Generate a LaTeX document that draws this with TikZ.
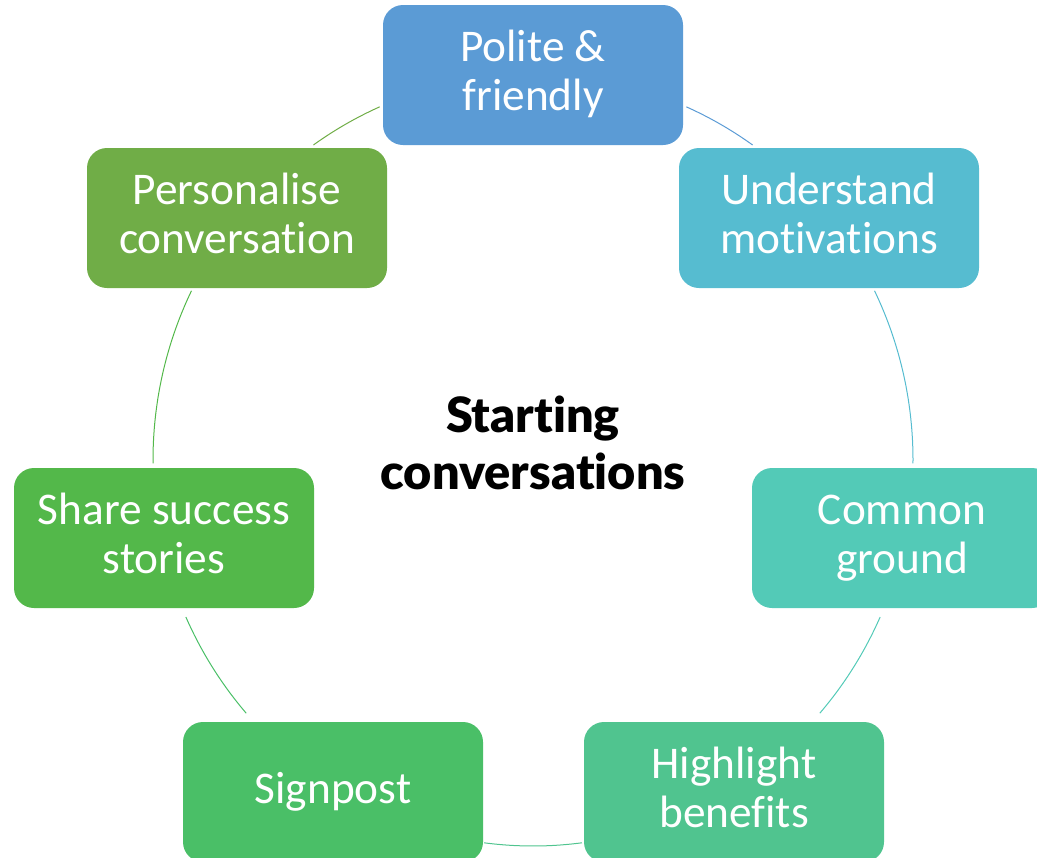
\documentclass[tikz,border=0pt]{standalone}
\usepackage{fontspec}
\setmainfont{Carlito}[RawFeature=-liga]
\newfontfamily\latofont{Lato Black}[RawFeature=-liga]
\definecolor{cA}{RGB}{91,155,213}
\definecolor{cB}{RGB}{86,188,208}
\definecolor{cC}{RGB}{83,202,183}
\definecolor{cD}{RGB}{80,196,143}
\definecolor{cE}{RGB}{74,191,103}
\definecolor{cF}{RGB}{83,184,74}
\definecolor{cG}{RGB}{112,173,71}
\newcommand\bxs{\rule[-7.5pt]{0pt}{31.5pt}}
\newcommand\tts{\rule[-7.5pt]{0pt}{34pt}}
\begin{document}
\begin{tikzpicture}[x=0.75pt,y=-0.75pt,
  box/.style={rounded corners=15pt, minimum width=225pt, minimum height=105pt,
    inner sep=0pt, align=center, text=white, font=\fontsize{34}{36.75}\selectfont},
  ring/.style={line width=0.75pt}]
\useasboundingbox (0,0) rectangle (1037,857);
\clip (0,0) rectangle (1037,857);
% ring segments
\draw[ring, cA] plot[domain=23.8:35.3, samples=30, smooth] ({533+380*sin(\x)},{460-386*cos(\x)});
\draw[ring, cB] plot[domain=64:90.5, samples=40, smooth] ({533+380*sin(\x)},{460-386*cos(\x)});
\draw[ring, cC] plot[domain=114:131, samples=30, smooth] ({533+380*sin(\x)},{460-386*cos(\x)});
\draw[ring, cD] plot[domain=172.6:187.4, samples=30, smooth] ({533+380*sin(\x)},{460-386*cos(\x)});
\draw[ring, cE] plot[domain=229:246, samples=30, smooth] ({533+380*sin(\x)},{460-386*cos(\x)});
\draw[ring, cF] plot[domain=269.5:296, samples=40, smooth] ({533+380*sin(\x)},{460-386*cos(\x)});
\draw[ring, cG] plot[domain=324.7:336.2, samples=30, smooth] ({533+380*sin(\x)},{460-386*cos(\x)});
% boxes
\node[box, fill=cA] (polite) at (533,75) {\bxs Polite \&\\friendly\bxs};
\node[box, fill=cB] (understand) at (829,218) {\bxs Understand\\motivations\bxs};
\node[box, fill=cC] (common) at (902,538) {\bxs Common\\ground\bxs};
\node[box, fill=cD] (highlight) at (734,792) {\bxs Highlight\\benefits\bxs};
\node[box, fill=cE] (signpost) at (333,792) {\bxs Signpost\bxs};
\node[box, fill=cF] (share) at (164,538) {\bxs Share success\\stories\bxs};
\node[box, fill=cG] (personalise) at (237,218) {\bxs Personalise\\conversation\bxs};
% centre
\node[align=center, inner sep=0pt, font=\latofont\fontsize{36.5}{42.75}\selectfont] (title) at (533,448) {\tts Starting\\conversations\tts};
\end{tikzpicture}
\end{document}
